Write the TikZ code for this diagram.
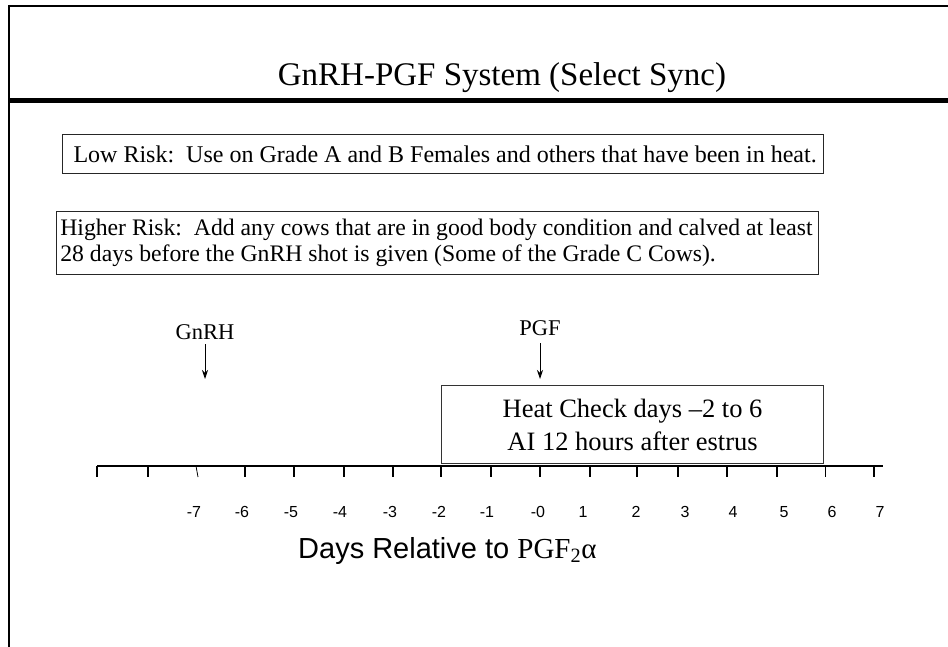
\documentclass[tikz,border=0pt]{standalone}
\usepackage{fontspec}
\setmainfont{Liberation Serif}
\newfontfamily\arialf{Liberation Sans}
\usetikzlibrary{arrows.meta}
\begin{document}
\begin{tikzpicture}[x=1pt,y=-1pt,
  frameline/.style={line width=2pt,black},
  titleline/.style={line width=4.5pt,black},
  riskbox/.style={draw=black!85,line width=1.1pt,inner sep=0pt,anchor=north west,align=left},
  heatbox/.style={draw=black!80,line width=1.1pt,inner sep=0pt,anchor=north west,align=center,
    font=\fontsize{26.5}{33}\selectfont},
  shotlabel/.style={font=\fontsize{22.5}{26}\selectfont,anchor=base,inner xsep=0pt},
  arr/.style={line width=0.9pt,-{Stealth[length=9pt,width=6pt]}},
  axis/.style={line width=2pt,black},
  bigtick/.style={line width=2pt},
  thintick/.style={line width=0.8pt},
  ticklabel/.style={font=\arialf\fontsize{16}{18}\selectfont,anchor=center,inner sep=0pt},
  axislabel/.style={font=\arialf\fontsize{29}{31}\selectfont,anchor=base west,inner sep=0pt},
  titletext/.style={font=\fontsize{33}{38}\selectfont,anchor=base,inner sep=0pt}]
\useasboundingbox (0,0) rectangle (948,647);
% frame
\draw[frameline] (8,6) -- (948,6);
\draw[frameline] (9,5) -- (9,647);
\draw[titleline] (9,100.5) -- (948,100.5);
% title
\node[titletext] (title) at (502,86) {GnRH-PGF System (Select Sync)};
% risk boxes
\node[riskbox,minimum width=761pt,minimum height=39pt,font=\fontsize{24}{26}\selectfont] (low) at (62,134)
  {\hspace*{9pt}\makebox[748pt][l]{Low Risk:\ \ Use on Grade A and B Females and others that have been in heat.}};
\node[riskbox,minimum width=762pt,minimum height=63pt,font=\fontsize{23.7}{25.5}\selectfont] (high) at (56,211)
  {\hspace*{2.5pt}\makebox[757pt][l]{Higher Risk:\ \ Add any cows that are in good body condition and calved at least}\\
   \hspace*{2.5pt}\makebox[757pt][l]{28 days before the GnRH shot is given (Some of the Grade C Cows).}};
% shots
\node[shotlabel,inner ysep=5pt] (gnrh) at (205,339) {GnRH};
\coordinate (gnrhend) at (205,379);
\draw[arr] (gnrh.south) -- (gnrhend);
\node[shotlabel,inner ysep=8pt] (pgf) at (540,335) {PGF};
\coordinate (pgfend) at (540,379);
\draw[arr] (pgf.south) -- (pgfend);
% heat check box
\node[heatbox,minimum width=382pt,minimum height=78pt] (heat) at (441,385)
  {Heat Check days –2 to 6\\AI 12 hours after estrus};
% axis
\coordinate (axstart) at (97,465.5);
\coordinate (axend) at (883,465.5);
\draw[axis] (axstart) -- (axend);
\foreach \tx in {97,148,245,294,344,393,441,491,540,590,637,678,727,777,874}
  \draw[bigtick] (\tx,465.5) -- (\tx,477);
\draw[thintick] (196,466) -- (198,477);
\draw[thintick] (825,466) -- (825,477);
% tick labels
\foreach \lx/\lt [count=\i] in {194/-7,242/-6,291/-5,340/-4,390/-3,439/-2,487/-1,538/-0,583/1,636/2,685/3,733/4,784/5,832/6,880/7}
  \node[ticklabel] (tl\i) at (\lx,512) {\lt};
% axis label
\node[axislabel] (days) at (298,558) {Days Relative to {\rmfamily PGF\textsubscript{2}α}};
\end{tikzpicture}
\end{document}
